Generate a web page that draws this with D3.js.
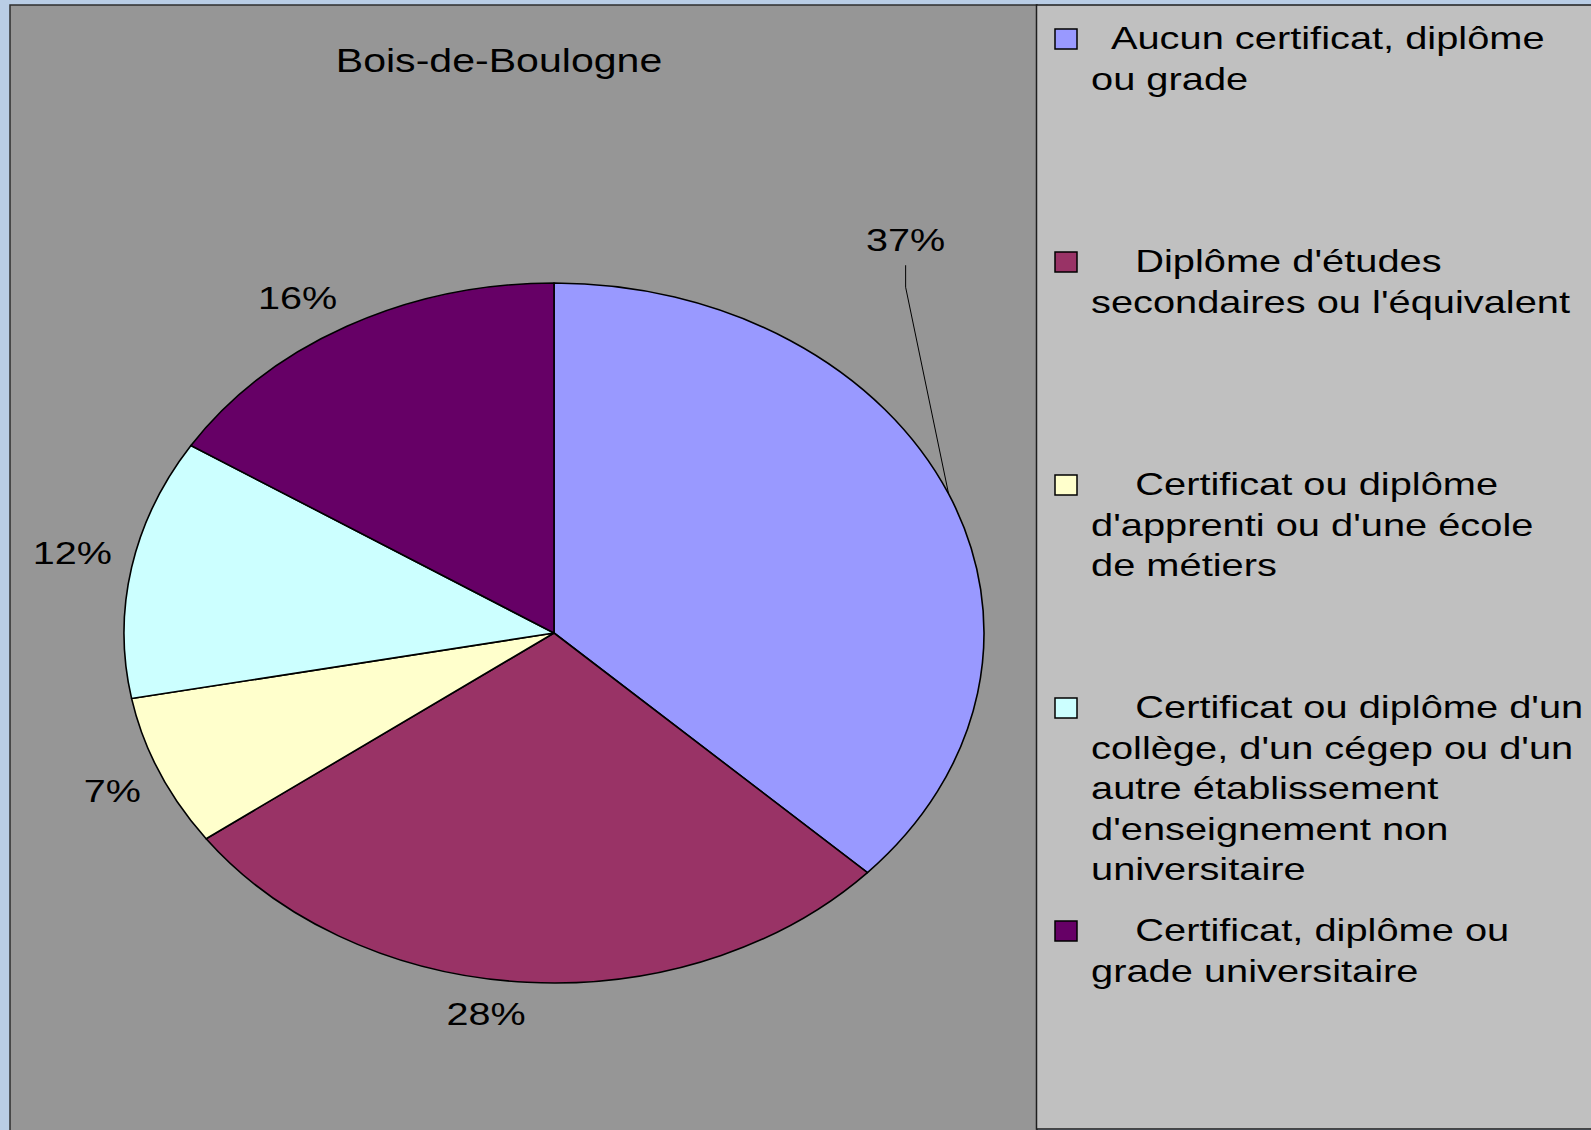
<!DOCTYPE html>
<html lang="fr">
<head>
<meta charset="utf-8">
<title>Bois-de-Boulogne</title>
<script src="https://cdn.jsdelivr.net/npm/d3@7"></script>
<style>
  html, body { margin: 0; padding: 0; background: #b9cde5; }
  svg { display: block; font-family: "Liberation Sans", Arial, sans-serif; }
  text { white-space: pre; }
</style>
</head>
<body>
<svg id="chart" width="1591" height="1130"></svg>
<script>
// Répartition selon le plus haut niveau de scolarité atteint
const chartTitle = "Bois-de-Boulogne";
const categories = [
  "  Aucun certificat, diplôme\nou grade",
  "    Diplôme d'études\nsecondaires ou l'équivalent",
  "    Certificat ou diplôme\nd'apprenti ou d'une école\nde métiers",
  "    Certificat ou diplôme d'un\ncollège, d'un cégep ou d'un\nautre établissement\nd'enseignement non\nuniversitaire",
  "    Certificat, diplôme ou\ngrade universitaire"
];
const shares = [37, 28, 7, 12, 16];
const percentLabels = ["37%", "28%", "7%", "12%", "16%"];
const sliceColors = ["#9999ff", "#993366", "#ffffcc", "#ccffff", "#660066"];

const W = 1591, H = 1130;
const svg = d3.select("#chart");
const STRETCH = 1.26; // horizontal text stretch

// Backgrounds: plot area and legend panel
svg.append("rect").attr("x", 10).attr("y", 5).attr("width", 1027).attr("height", H + 10)
  .attr("fill", "#969696").attr("stroke", "#2e2e2e").attr("stroke-width", 1.5);
svg.append("rect").attr("x", 1036.5).attr("y", 5).attr("width", 600).attr("height", 1124)
  .attr("fill", "#c0c0c0").attr("stroke", "#1e1e1e").attr("stroke-width", 1.5);

// Title
svg.append("text")
  .attr("transform", `translate(499,71.5) scale(${STRETCH},1)`)
  .attr("text-anchor", "middle")
  .attr("font-size", 32.6)
  .attr("fill", "#000")
  .text(chartTitle);

// Pie (elliptical)
const cx = 554, cy = 633, rx = 430, ry = 350;
const pie = d3.pie().sort(null).value(d => d);
const arcs = pie(shares);
const arc = d3.arc().innerRadius(0).outerRadius(ry);

const pieG = svg.append("g")
  .attr("transform", `translate(${cx},${cy}) scale(${rx / ry},1)`);
pieG.selectAll("path.slice")
  .data(arcs)
  .join("path")
  .attr("class", "slice")
  .attr("d", arc)
  .attr("fill", (d, i) => sliceColors[i])
  .attr("stroke", "#000")
  .attr("stroke-width", 1.6)
  .attr("stroke-linejoin", "round")
  .attr("vector-effect", "non-scaling-stroke");

// Point on the ellipse edge (plus gap) at a given angle
function edgePoint(a, gap) {
  return [cx + Math.sin(a) * (rx + gap), cy - Math.cos(a) * (ry + gap)];
}

// Data labels: the label box corner nearest the pie sits just outside the edge
const labelFont = 31.4;
const labelG = svg.append("g");
const movedLabel = { index: 0, dx: -43, dy: -254 }; // label pulled away with a leader line

arcs.forEach((d, i) => {
  const mid = (d.startAngle + d.endAngle) / 2;
  const t = labelG.append("text")
    .attr("font-size", labelFont)
    .attr("text-anchor", "middle")
    .attr("fill", "#000")
    .text(percentLabels[i]);
  const halfW = t.node().getComputedTextLength() * STRETCH / 2;
  const halfH = 0.716 * labelFont / 2;
  let lx, ly;
  if (i === movedLabel.index) {
    const [ax, ay] = edgePoint(mid, 0);
    lx = ax + movedLabel.dx;
    ly = ay + movedLabel.dy;
    const top = ly + halfH + 14;
    labelG.append("path")
      .attr("d", d3.line()([[lx, top], [lx, top + 22], [ax, ay]]))
      .attr("fill", "none")
      .attr("stroke", "#000")
      .attr("stroke-width", 1);
  } else {
    const [px, py] = edgePoint(mid, 20);
    const sx = Math.sin(mid), sy = -Math.cos(mid);
    lx = px + (sx < 0 ? -halfW : halfW);
    ly = py + (sy < 0 ? -halfH : halfH);
  }
  t.attr("transform", `translate(${lx},${ly + halfH}) scale(${STRETCH},1)`);
});

// Legend
const legendFont = 31.6;
const lineStep = 40.6;
const entryStep = 223;
const legend = svg.append("g");
categories.forEach((name, i) => {
  const base = 49 + i * entryStep;
  legend.append("rect")
    .attr("x", 1055).attr("y", base - 20)
    .attr("width", 22).attr("height", 20)
    .attr("fill", sliceColors[i])
    .attr("stroke", "#000").attr("stroke-width", 1.5);
  const t = legend.append("text")
    .attr("transform", `translate(1091,${base}) scale(${STRETCH},1)`)
    .attr("font-size", legendFont)
    .attr("fill", "#000");
  name.split("\n").forEach((line, j) => {
    t.append("tspan").attr("x", 0).attr("y", j * lineStep).text(line);
  });
});
</script>
</body>
</html>
